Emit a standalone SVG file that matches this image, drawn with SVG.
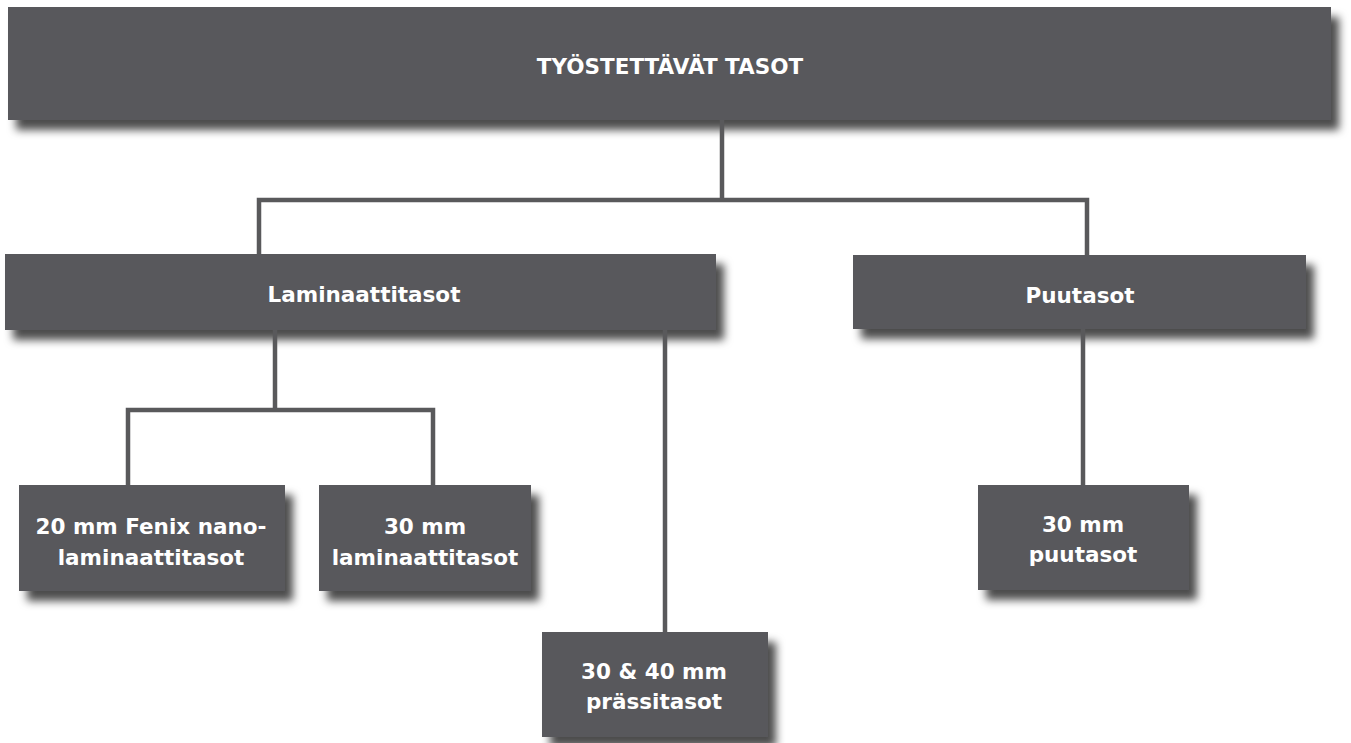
<svg xmlns="http://www.w3.org/2000/svg" width="1351" height="743" viewBox="0 0 1351 743">
<defs>
<filter id="sh" x="-10%" y="-20%" width="130%" height="160%">
<feDropShadow dx="8" dy="10" stdDeviation="4.5" flood-color="#000" flood-opacity="0.7"/>
</filter>
</defs>
<style>
.box{fill:#59595b;filter:url(#sh)}
.t{font-family:"DejaVu Sans",sans-serif;font-weight:bold;font-size:21.5px;fill:#fff;text-anchor:middle}
.c{fill:none;stroke:#59595b;stroke-width:4.5;stroke-linejoin:miter}
</style>
<rect width="1351" height="743" fill="#fff"/>
<g id="n-top"><rect class="box" x="8" y="7" width="1323" height="113"/><text class="t" x="670" y="74" font-size="20.5">TYÖSTETTÄVÄT TASOT</text></g>
<g id="n-laminaatti"><rect class="box" x="5" y="254" width="711" height="76"/><text class="t" x="364" y="302">Laminaattitasot</text></g>
<g id="n-puu"><rect class="box" x="853" y="255" width="453" height="74"/><text class="t" x="1080" y="303">Puutasot</text></g>
<g id="n-fenix"><rect class="box" x="19" y="485" width="266" height="106"/><text class="t" x="151" y="534">20 mm Fenix nano-</text><text class="t" x="151" y="565">laminaattitasot</text></g>
<g id="n-lam30"><rect class="box" x="319" y="485" width="212" height="106"/><text class="t" x="425" y="534">30 mm</text><text class="t" x="425" y="565">laminaattitasot</text></g>
<g id="n-prassi"><rect class="box" x="542" y="632" width="226" height="105"/><text class="t" x="654" y="679">30 &amp; 40 mm</text><text class="t" x="654" y="709">prässitasot</text></g>
<g id="n-puu30"><rect class="box" x="978" y="485" width="211" height="105"/><text class="t" x="1083" y="532">30 mm</text><text class="t" x="1083" y="562">puutasot</text></g>
<g id="connectors">
<path class="c" d="M722,120 V200"/>
<path class="c" d="M259,254 V200 H1087 V255"/>
<path class="c" d="M275,330 V410"/>
<path class="c" d="M128,485 V410 H433 V485"/>
<path class="c" d="M665,330 V632"/>
<path class="c" d="M1083,329 V485"/>
</g>
</svg>
